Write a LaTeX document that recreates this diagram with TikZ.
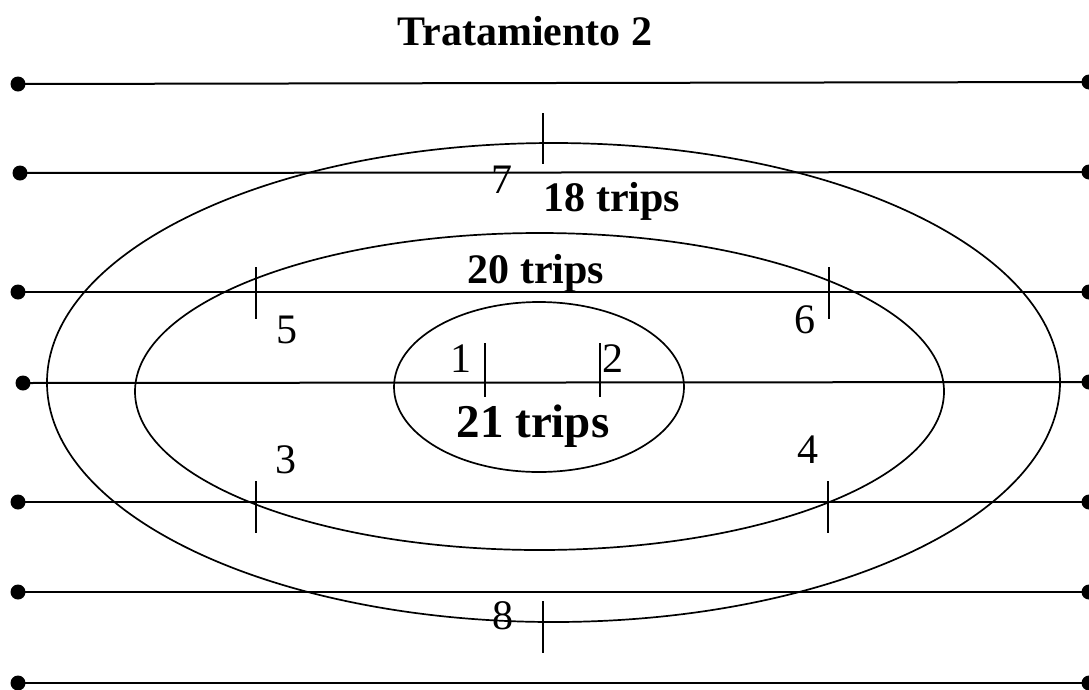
\documentclass[tikz,border=0pt]{standalone}
\usepackage{fontspec}
\setmainfont{Liberation Serif}
\begin{document}
\begin{tikzpicture}[x=1pt,y=-1pt,
  dot/.style={circle,fill=black,inner sep=0pt,minimum size=15pt},
  track/.style={line width=2pt},
  ring/.style={line width=1.7pt},
  tick/.style={line width=1.7pt},
  num/.style={inner sep=0pt,font=\fontsize{42}{48}\selectfont},
  lab/.style={inner sep=0pt,anchor=base,font=\fontsize{42}{48}\selectfont\bfseries}]
\useasboundingbox (0,0) rectangle (1089,689);
% dots
\node[dot] (L1) at (18,84) {};   \node[dot] (R1) at (1089,82) {};
\node[dot] (L2) at (20,173) {};  \node[dot] (R2) at (1089,172) {};
\node[dot] (L3) at (18,292) {};  \node[dot] (R3) at (1089,292) {};
\node[dot] (L4) at (23,383) {};  \node[dot] (R4) at (1089,382) {};
\node[dot] (L5) at (18,502) {};  \node[dot] (R5) at (1089,502) {};
\node[dot] (L6) at (18,592) {};  \node[dot] (R6) at (1089,592) {};
\node[dot] (L7) at (18,683) {};  \node[dot] (R7) at (1089,683) {};
\foreach \i in {1,...,7} \draw[track] (L\i.center) -- (R\i.center);
% ellipses
\draw[ring] (553.5,382.5) ellipse [x radius=506.5, y radius=239.5];
\draw[ring] (539.5,391.5) ellipse [x radius=404.5, y radius=158.5];
\draw[ring] (539,387) ellipse [x radius=145, y radius=85];
% ticks
\coordinate (t7a) at (543,113); \coordinate (t7b) at (543,164);
\coordinate (t5a) at (256,267); \coordinate (t5b) at (256,319);
\coordinate (t6a) at (829,267); \coordinate (t6b) at (829,319);
\coordinate (t1a) at (485,343); \coordinate (t1b) at (485,397);
\coordinate (t2a) at (600,343); \coordinate (t2b) at (600,397);
\coordinate (t3a) at (256,481); \coordinate (t3b) at (256,533);
\coordinate (t4a) at (828,481); \coordinate (t4b) at (828,533);
\coordinate (t8a) at (543,601); \coordinate (t8b) at (543,653);
\foreach \t in {7,5,6,1,2,3,4,8} \draw[tick] (t\t a) -- (t\t b);
% labels
\node[lab] (title) at (525,45) {Tratamiento 2};
\node[lab] (r18) at (612,211) {18 trips};
\node[lab] (r20) at (536,283) {20 trips};
\node[lab,font=\fontsize{47}{54}\selectfont\bfseries] (r21) at (533,437) {21 trips};
\node[num] (n7) at (502,180) {7};
\node[num] (n5) at (287,330) {5};
\node[num] (n6) at (805,320) {6};
\node[num] (n1) at (461,359) {1};
\node[num] (n2) at (613,359) {2};
\node[num] (n3) at (286,460) {3};
\node[num] (n4) at (808,450) {4};
\node[num] (n8) at (503,616) {8};
\end{tikzpicture}
\end{document}
